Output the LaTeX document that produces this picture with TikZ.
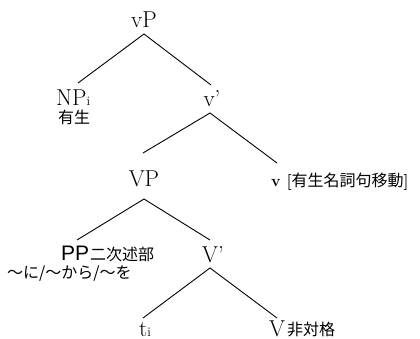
\documentclass[tikz,border=0pt]{standalone}
\usepackage{fontspec}
\newfontfamily\cjk{Noto Sans CJK JP}
\newfontfamily\ppfont{Liberation Sans}
\begin{document}
\begin{tikzpicture}[x=1pt,y=-1pt,
  cat/.style={inner sep=0pt, font=\fontsize{23}{26}\selectfont},
  jp/.style={inner sep=0pt, anchor=base west, font=\cjk\fontsize{16}{18}\selectfont},
  branch/.style={line width=0.9pt}]
\useasboundingbox (0,0) rectangle (420,339);
% nodes
\node[cat, anchor=base] (vP) at (144,28) {vP};
\node[cat, anchor=base west] (NP) at (56,106) {NP{\fontsize{13}{14}\selectfont i}};
\node[jp] (NPan) at (58,124) {有生};
\node[cat, anchor=base] (vbar) at (212,107) {v’};
\node[cat, anchor=base] (VP) at (144,186) {VP};
\node[inner sep=0pt, anchor=base west] (vhead) at (271,186) {\fontsize{16}{18}\selectfont\bfseries v [{\cjk\mdseries 有生名詞句移動}]};
\node[inner sep=0pt, anchor=base west] (PP) at (61,260) {\ppfont\fontsize{21}{24}\selectfont PP};
\node[jp] (PPan) at (90,260) {二次述部};
\node[jp] (PPcase) at (7,278) {〜に/〜から/〜を};
\node[cat, anchor=base] (Vbar) at (213,262) {V’};
\node[cat, anchor=base west] (trace) at (139,336) {t{\fontsize{13}{14}\selectfont i}};
\node[cat, anchor=base west] (Vhead) at (269,336) {V};
\node[jp] (Van) at (287,335) {非対格};
% branch ends
\coordinate (vP-s) at (144,34);
\coordinate (NP-n) at (78,83);
\coordinate (vbar-n) at (211,85);
\coordinate (vbar-s) at (210,113);
\coordinate (VP-n) at (143,153);
\coordinate (vhead-n) at (277,163);
\coordinate (VP-s) at (144,199);
\coordinate (PP-n) at (77,240);
\coordinate (Vbar-n) at (210,240);
\coordinate (Vbar-s) at (210,268);
\coordinate (trace-n) at (143,318);
\coordinate (Vhead-n) at (277,318);
\draw[branch] (NP-n) -- (vP-s) -- (vbar-n);
\draw[branch] (VP-n) -- (vbar-s) -- (vhead-n);
\draw[branch] (PP-n) -- (VP-s) -- (Vbar-n);
\draw[branch] (trace-n) -- (Vbar-s) -- (Vhead-n);
\end{tikzpicture}
\end{document}
